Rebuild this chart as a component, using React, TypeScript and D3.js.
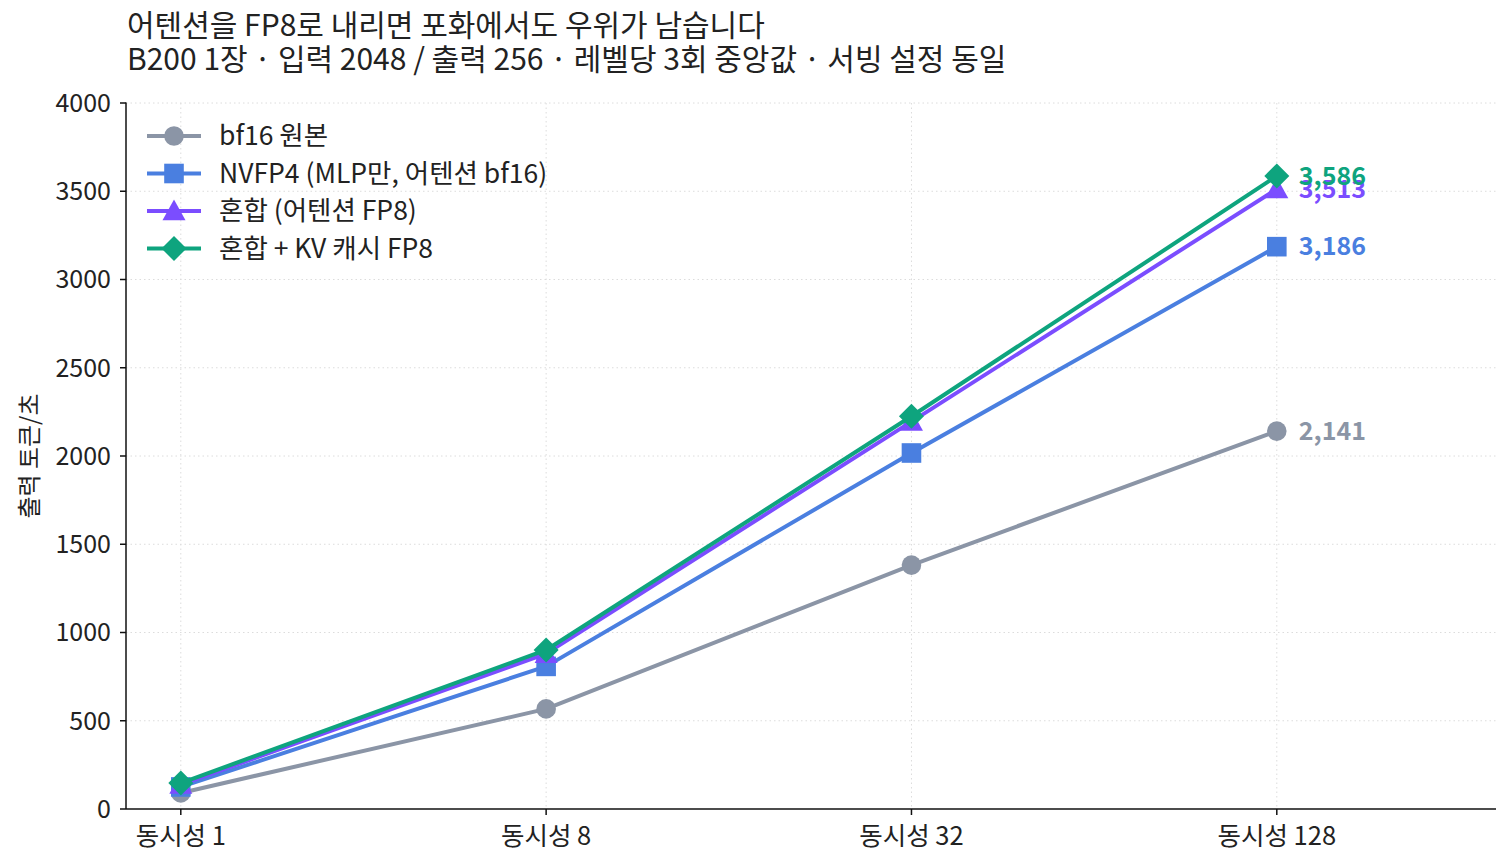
import React from "react";
import * as d3 from "d3";

const categories = ["동시성 1", "동시성 8", "동시성 32", "동시성 128"];
const seriesNames = ["bf16 원본", "NVFP4 (MLP만, 어텐션 bf16)", "혼합 (어텐션 FP8)", "혼합 + KV 캐시 FP8"];
const bf16 = [91, 567, 1382, 2141];
const nvfp4 = [125, 808, 2017, 3186];
const mixed = [138, 880, 2195, 3513];
const mixedKv = [147, 901, 2225, 3586];
const yTicks = [0, 500, 1000, 1500, 2000, 2500, 3000, 3500, 4000];
const colors = ["#8b95a6", "#4a7fe0", "#7b4dff", "#0ea47e"];
const markers = ["circle", "square", "triangle", "diamond"];

const W = 1512;
const H = 866;
const M = { left: 126, right: 1496, top: 103, bottom: 809 };
const FONT = "'Noto Sans CJK KR', 'Noto Sans', sans-serif";

function Marker({ type, x, y, color }: { type: string; x: number; y: number; color: string }) {
  if (type === "circle") return <circle cx={x} cy={y} r={9.8} fill={color} />;
  if (type === "square") return <rect x={x - 9.8} y={y - 9.8} width={19.6} height={19.6} fill={color} />;
  if (type === "triangle") {
    const s = 11.5;
    return <path d={`M${x},${y - s} L${x + s},${y + s * 0.8} L${x - s},${y + s * 0.8} Z`} fill={color} />;
  }
  const s = 12.5;
  return <path d={`M${x},${y - s} L${x + s},${y} L${x},${y + s} L${x - s},${y} Z`} fill={color} />;
}

export default function App() {
  const data = [bf16, nvfp4, mixed, mixedKv];
  const x = d3.scaleLinear().domain([-0.15, 3.6]).range([M.left, M.right]);
  const y = d3.scaleLinear().domain([0, 4000]).range([M.bottom, M.top]);
  const line = d3.line<number>().x((_, i) => x(i)).y((d) => y(d));
  const fmt = d3.format(",");
  return (
    <svg width={W} height={H} style={{ position: "absolute", left: 0, top: 0 }} fontFamily={FONT}>
      <rect width={W} height={H} fill="#fff" />
      <text x={127} y={36} fontSize={30} fill="#222">어텐션을 FP8로 내리면 포화에서도 우위가 남습니다</text>
      <text x={127} y={70} fontSize={30} fill="#222">B200 1장 · 입력 2048 / 출력 256 · 레벨당 3회 중앙값 · 서빙 설정 동일</text>
      {yTicks.slice(1).map((t) => (
        <line key={"gy" + t} x1={M.left} x2={M.right} y1={y(t)} y2={y(t)} stroke="#dcdcdc" strokeWidth={1} strokeDasharray="1.5 3" />
      ))}
      {categories.map((c, i) => (
        <line key={"gx" + i} x1={x(i)} x2={x(i)} y1={M.top} y2={M.bottom} stroke="#dcdcdc" strokeWidth={1} strokeDasharray="1.5 3" />
      ))}
      <line x1={M.left} x2={M.left} y1={M.top - 0.5} y2={M.bottom} stroke="#111" strokeWidth={1.5} />
      <line x1={M.left} x2={M.right} y1={M.bottom} y2={M.bottom} stroke="#111" strokeWidth={1.5} />
      {yTicks.map((t) => (
        <g key={"ty" + t}>
          <line x1={M.left - 6} x2={M.left} y1={y(t)} y2={y(t)} stroke="#111" strokeWidth={1.5} />
          <text x={M.left - 15} y={y(t)} dy="0.35em" textAnchor="end" fontSize={25} fill="#222">{t}</text>
        </g>
      ))}
      {categories.map((c, i) => (
        <g key={"tx" + i}>
          <line x1={x(i)} x2={x(i)} y1={M.bottom} y2={M.bottom + 6} stroke="#111" strokeWidth={1.5} />
          <text x={x(i)} y={M.bottom + 36} textAnchor="middle" fontSize={25.5} fill="#222">{c}</text>
        </g>
      ))}
      <text transform={`translate(38,${(M.top + M.bottom) / 2}) rotate(-90)`} textAnchor="middle" fontSize={24} fill="#222">출력 토큰/초</text>
      {data.map((s, k) => (
        <g key={"s" + k}>
          <path d={line(s) || ""} fill="none" stroke={colors[k]} strokeWidth={4} strokeLinejoin="round" />
          {s.map((v, i) => (
            <Marker key={i} type={markers[k]} x={x(i)} y={y(v)} color={colors[k]} />
          ))}
        </g>
      ))}
      {data.map((s, k) => (
        <text key={"l" + k} x={x(3) + 22} y={y(s[3])} dy="0.35em" fontSize={25} fontWeight="bold" fill={colors[k]}>
          {fmt(s[3])}
        </text>
      ))}
      {seriesNames.map((n, k) => {
        const ly = 136 + k * 37.5;
        return (
          <g key={"lg" + k}>
            <line x1={147} x2={201} y1={ly} y2={ly} stroke={colors[k]} strokeWidth={4} />
            <Marker type={markers[k]} x={174} y={ly} color={colors[k]} />
            <text x={219} y={ly} dy="0.35em" fontSize={26.5} fill="#222">{n}</text>
          </g>
        );
      })}
    </svg>
  );
}
